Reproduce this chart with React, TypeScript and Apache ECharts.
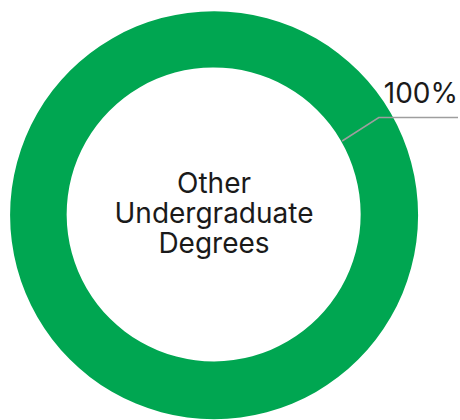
import React, { useEffect, useRef } from 'react';
import * as echarts from 'echarts';

const categories = ['Other Undergraduate Degrees'];
const values = [100];
const colors = ['#00A651'];

export default function App() {
  const ref = useRef<HTMLDivElement>(null);
  useEffect(() => {
    const chart = echarts.init(ref.current!, null, { renderer: 'svg' });
    const data = categories.map((name, i) => ({ name, value: values[i] }));
    chart.setOption({
      animation: false,
      textStyle: { fontFamily: 'Inter' },
      series: [
        {
          type: 'pie',
          z: 1,
          center: [214, 215],
          radius: [147, 204],
          startAngle: 210,
          silent: true,
          itemStyle: { color: (p: any) => colors[p.dataIndex % colors.length] },
          label: {
            show: true,
            position: 'center',
            offset: [0, -2],
            formatter: (p: any) => String(p.name).split(' ').join('\n'),
            fontSize: 28,
            lineHeight: 30,
            color: '#1a1a1a',
            fontFamily: 'Inter',
          },
          labelLine: { show: false },
          data,
        },
        {
          type: 'pie',
          z: 5,
          center: [214, 215],
          radius: [0, 148],
          startAngle: 210,
          silent: true,
          itemStyle: { color: 'rgba(0,0,0,0)' },
          label: {
            show: true,
            position: 'outside',
            alignTo: 'edge',
            edgeDistance: 2,
            width: 74,
            overflow: 'none',
            formatter: '{d}%',
            fontSize: 28,
            color: '#1a1a1a',
            fontFamily: 'Inter',
          },
          labelLine: {
            show: true,
            length: 47,
            length2: 10,
            lineStyle: { color: '#9E9E9E', width: 1.5 },
          },
          labelLayout: (params: any) => {
            const pts = params.labelLinePoints;
            if (pts) pts[2][0] = params.labelRect.x + params.labelRect.width;
            return { labelLinePoints: pts, dy: -25 };
          },
          data,
        },
      ],
    });
    return () => chart.dispose();
  }, []);
  return (
    <div
      ref={ref}
      style={{ position: 'absolute', left: 0, top: 0, width: 460, height: 420 }}
    />
  );
}
